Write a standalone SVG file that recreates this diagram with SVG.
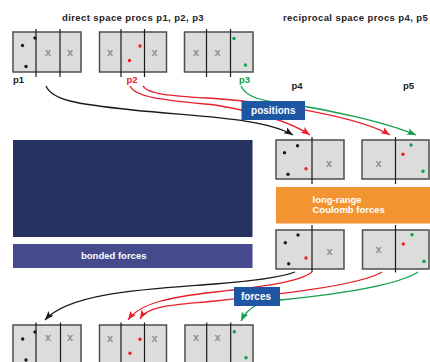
<svg xmlns="http://www.w3.org/2000/svg" width="430" height="362" viewBox="0 0 430 362">
<style>
text{font-family:"Liberation Sans",Arial,Helvetica,sans-serif;font-weight:bold}
.title{font-size:9.5px;fill:#222;letter-spacing:0.4px}
.plab{font-size:9.5px}
.box{fill:#dcdcdc;stroke:#4d4d4d;stroke-width:1.5}
.div{stroke:#1a1a1a;stroke-width:1.2}
.xm{font-size:11px;font-weight:bold;fill:#8f8f8f;text-anchor:middle}
.wt{fill:#fff;font-size:10px}
.k{fill:#1a1a1a}.r{fill:#e8202a}.g{fill:#10a04a}
.cb{fill:none;stroke:#1a1a1a;stroke-width:1.3}
.cr{fill:none;stroke:#e8202a;stroke-width:1.3}
.cg{fill:none;stroke:#10a04a;stroke-width:1.3}
</style>
<defs>
<marker id="ak" markerUnits="userSpaceOnUse" markerWidth="10" markerHeight="8" refX="9" refY="3.5" orient="auto"><path d="M0,0 L9,3.5 L0,7 L2,3.5 z" fill="#1a1a1a"/></marker>
<marker id="ar" markerUnits="userSpaceOnUse" markerWidth="10" markerHeight="8" refX="9" refY="3.5" orient="auto"><path d="M0,0 L9,3.5 L0,7 L2,3.5 z" fill="#e8202a"/></marker>
<marker id="ag" markerUnits="userSpaceOnUse" markerWidth="10" markerHeight="8" refX="9" refY="3.5" orient="auto"><path d="M0,0 L9,3.5 L0,7 L2,3.5 z" fill="#10a04a"/></marker>
</defs>

<g id="titles">
<text class="title" x="62" y="21">direct space procs p1, p2, p3</text>
<text class="title" x="283" y="21">reciprocal space procs p4, p5</text>
</g>

<g id="long-range-bg">
<rect x="13" y="140" width="239.5" height="97" fill="#263260"/>
</g>
<g id="bonded-forces">
<rect x="13" y="244" width="239.5" height="24" fill="#454a8d"/>
<text class="wt" x="81" y="258.5" style="font-size:9.5px">bonded forces</text>
</g>
<g id="coulomb">
<rect x="276" y="187" width="154" height="36.5" fill="#f39433"/>
<text class="wt" x="312.5" y="203" style="font-size:9.5px">long-range</text>
<text class="wt" x="312.5" y="213" style="font-size:9.5px">Coulomb forces</text>
</g>

<!-- top direct-space procs -->
<g id="p1-top">
<rect class="box" x="13" y="32" width="68" height="40"/>
<line class="div" x1="36" y1="29" x2="36" y2="77"/>
<line class="div" x1="60" y1="29" x2="60" y2="77"/>
<text class="xm" x="48" y="55.5">x</text><text class="xm" x="70" y="55.5">x</text>
<circle class="k" cx="22.5" cy="45.5" r="1.7"/><circle class="k" cx="35" cy="38" r="1.7"/><circle class="k" cx="26" cy="66.5" r="1.7"/>
<text class="plab" x="13" y="83" fill="#222">p1</text>
</g>
<g id="p2-top">
<rect class="box" x="99.5" y="32" width="67" height="40"/>
<line class="div" x1="121" y1="29" x2="121" y2="77"/>
<line class="div" x1="144.5" y1="29" x2="144.5" y2="77"/>
<text class="xm" x="110" y="55.5">x</text><text class="xm" x="154.5" y="55.5">x</text>
<circle class="r" cx="140" cy="46" r="1.7"/><circle class="r" cx="129.5" cy="60.5" r="1.7"/>
<text class="plab" x="126.5" y="83" fill="#e8202a">p2</text>
</g>
<g id="p3-top">
<rect class="box" x="184.5" y="32" width="68.5" height="40"/>
<line class="div" x1="206.5" y1="29" x2="206.5" y2="77"/>
<line class="div" x1="230.5" y1="29" x2="230.5" y2="77"/>
<text class="xm" x="196" y="55.5">x</text><text class="xm" x="217.5" y="55.5">x</text>
<circle class="g" cx="234" cy="38.5" r="1.7"/><circle class="g" cx="245.5" cy="65" r="1.7"/>
<text class="plab" x="239" y="83" fill="#10a04a">p3</text>
</g>

<!-- reciprocal procs -->
<g id="p4-in">
<text class="plab" x="291.5" y="89" fill="#222">p4</text>
<rect class="box" x="276" y="140" width="68" height="39"/>
<line class="div" x1="312" y1="137" x2="312" y2="184"/>
<text class="xm" x="329" y="166.5">x</text>
<circle class="k" cx="297.5" cy="145.7" r="1.7"/><circle class="k" cx="284.5" cy="152.7" r="1.7"/><circle class="k" cx="288" cy="174.3" r="1.7"/>
<circle class="r" cx="306" cy="168.7" r="1.7"/>
</g>
<g id="p5-in">
<text class="plab" x="403" y="89" fill="#222">p5</text>
<rect class="box" x="362" y="140" width="67" height="39"/>
<line class="div" x1="395.5" y1="137" x2="395.5" y2="184"/>
<text class="xm" x="378.5" y="166.5">x</text>
<circle class="g" cx="411" cy="145" r="1.7"/><circle class="r" cx="403" cy="154.3" r="1.7"/><circle class="g" cx="423" cy="171.3" r="1.7"/>
</g>
<g id="p4-out">
<rect class="box" x="276" y="230" width="68" height="39"/>
<line class="div" x1="312" y1="225" x2="312" y2="272"/>
<text class="xm" x="329.5" y="254.5">x</text>
<circle class="k" cx="298" cy="235" r="1.7"/><circle class="k" cx="285.3" cy="242.7" r="1.7"/><circle class="k" cx="288.7" cy="263.7" r="1.7"/>
<circle class="r" cx="306" cy="258" r="1.7"/>
</g>
<g id="p5-out">
<rect class="box" x="362.5" y="230" width="66.5" height="39"/>
<line class="div" x1="395.5" y1="225" x2="395.5" y2="272.5"/>
<text class="xm" x="378.5" y="253">x</text>
<circle class="g" cx="412" cy="234.7" r="1.7"/><circle class="r" cx="403.3" cy="244" r="1.7"/><circle class="g" cx="424" cy="261.3" r="1.7"/>
</g>

<!-- bottom direct-space procs -->
<g id="p1-bottom">
<rect class="box" x="13" y="325" width="68" height="40"/>
<line class="div" x1="36" y1="322.5" x2="36" y2="362"/>
<line class="div" x1="60.5" y1="322.5" x2="60.5" y2="362"/>
<text class="xm" x="48" y="341">x</text><text class="xm" x="70" y="341">x</text>
<circle class="k" cx="22.7" cy="339" r="1.7"/><circle class="k" cx="35" cy="332" r="1.7"/><circle class="k" cx="26" cy="360" r="1.7"/>
</g>
<g id="p2-bottom">
<rect class="box" x="99.5" y="325" width="67" height="40"/>
<line class="div" x1="121" y1="322.5" x2="121" y2="362"/>
<line class="div" x1="144.5" y1="322.5" x2="144.5" y2="362"/>
<text class="xm" x="110" y="341.5">x</text><text class="xm" x="154.5" y="341.5">x</text>
<circle class="r" cx="140" cy="339.3" r="1.7"/><circle class="r" cx="130" cy="353.3" r="1.7"/>
</g>
<g id="p3-bottom">
<rect class="box" x="185" y="325" width="68" height="40"/>
<line class="div" x1="206.7" y1="322.5" x2="206.7" y2="362"/>
<line class="div" x1="230.7" y1="322.5" x2="230.7" y2="362"/>
<text class="xm" x="196" y="341">x</text><text class="xm" x="217.5" y="341">x</text>
<circle class="g" cx="234.3" cy="331.7" r="1.7"/><circle class="g" cx="246" cy="357.7" r="1.7"/>
</g>

<g id="connectors">
<path class="cb" d="M46,86 C52,100 75,104 133,110 C200,117 265,118 293,135" marker-end="url(#ak)"/>
<path class="cr" d="M130,86 C136,98 165,100 215,105 C245,110 285,118 310,135" marker-end="url(#ar)"/>
<path class="cr" d="M143,86 C148,95 175,96 215,98.5 C270,102 360,117 390,135" marker-end="url(#ar)"/>
<path class="cg" d="M241,86 C246,97 260,101 290,104 C330,110 385,122 416,135" marker-end="url(#ag)"/>
<path class="cb" d="M295,272 C280,278 250,281 215,284 C150,289 70,292 45,320" marker-end="url(#ak)"/>
<path class="cr" d="M312,272 C300,282 260,287 215,292 C170,297 140,303 128,320" marker-end="url(#ar)"/>
<path class="cr" d="M382,272 C360,285 290,293 215,301 C175,305 148,305 140,319" marker-end="url(#ar)"/>
<path class="cg" d="M418,272 C395,287 330,295 280,300 C258,302 248,307 241,321" marker-end="url(#ag)"/>
</g>

<g id="positions">
<rect x="241.5" y="101" width="63.5" height="19" fill="#1e56a4"/>
<text class="wt" x="273.3" y="114" text-anchor="middle">positions</text>
</g>
<g id="forces">
<rect x="234" y="287" width="46" height="19" fill="#1e56a4"/>
<text class="wt" x="256" y="300" text-anchor="middle">forces</text>
</g>
</svg>
